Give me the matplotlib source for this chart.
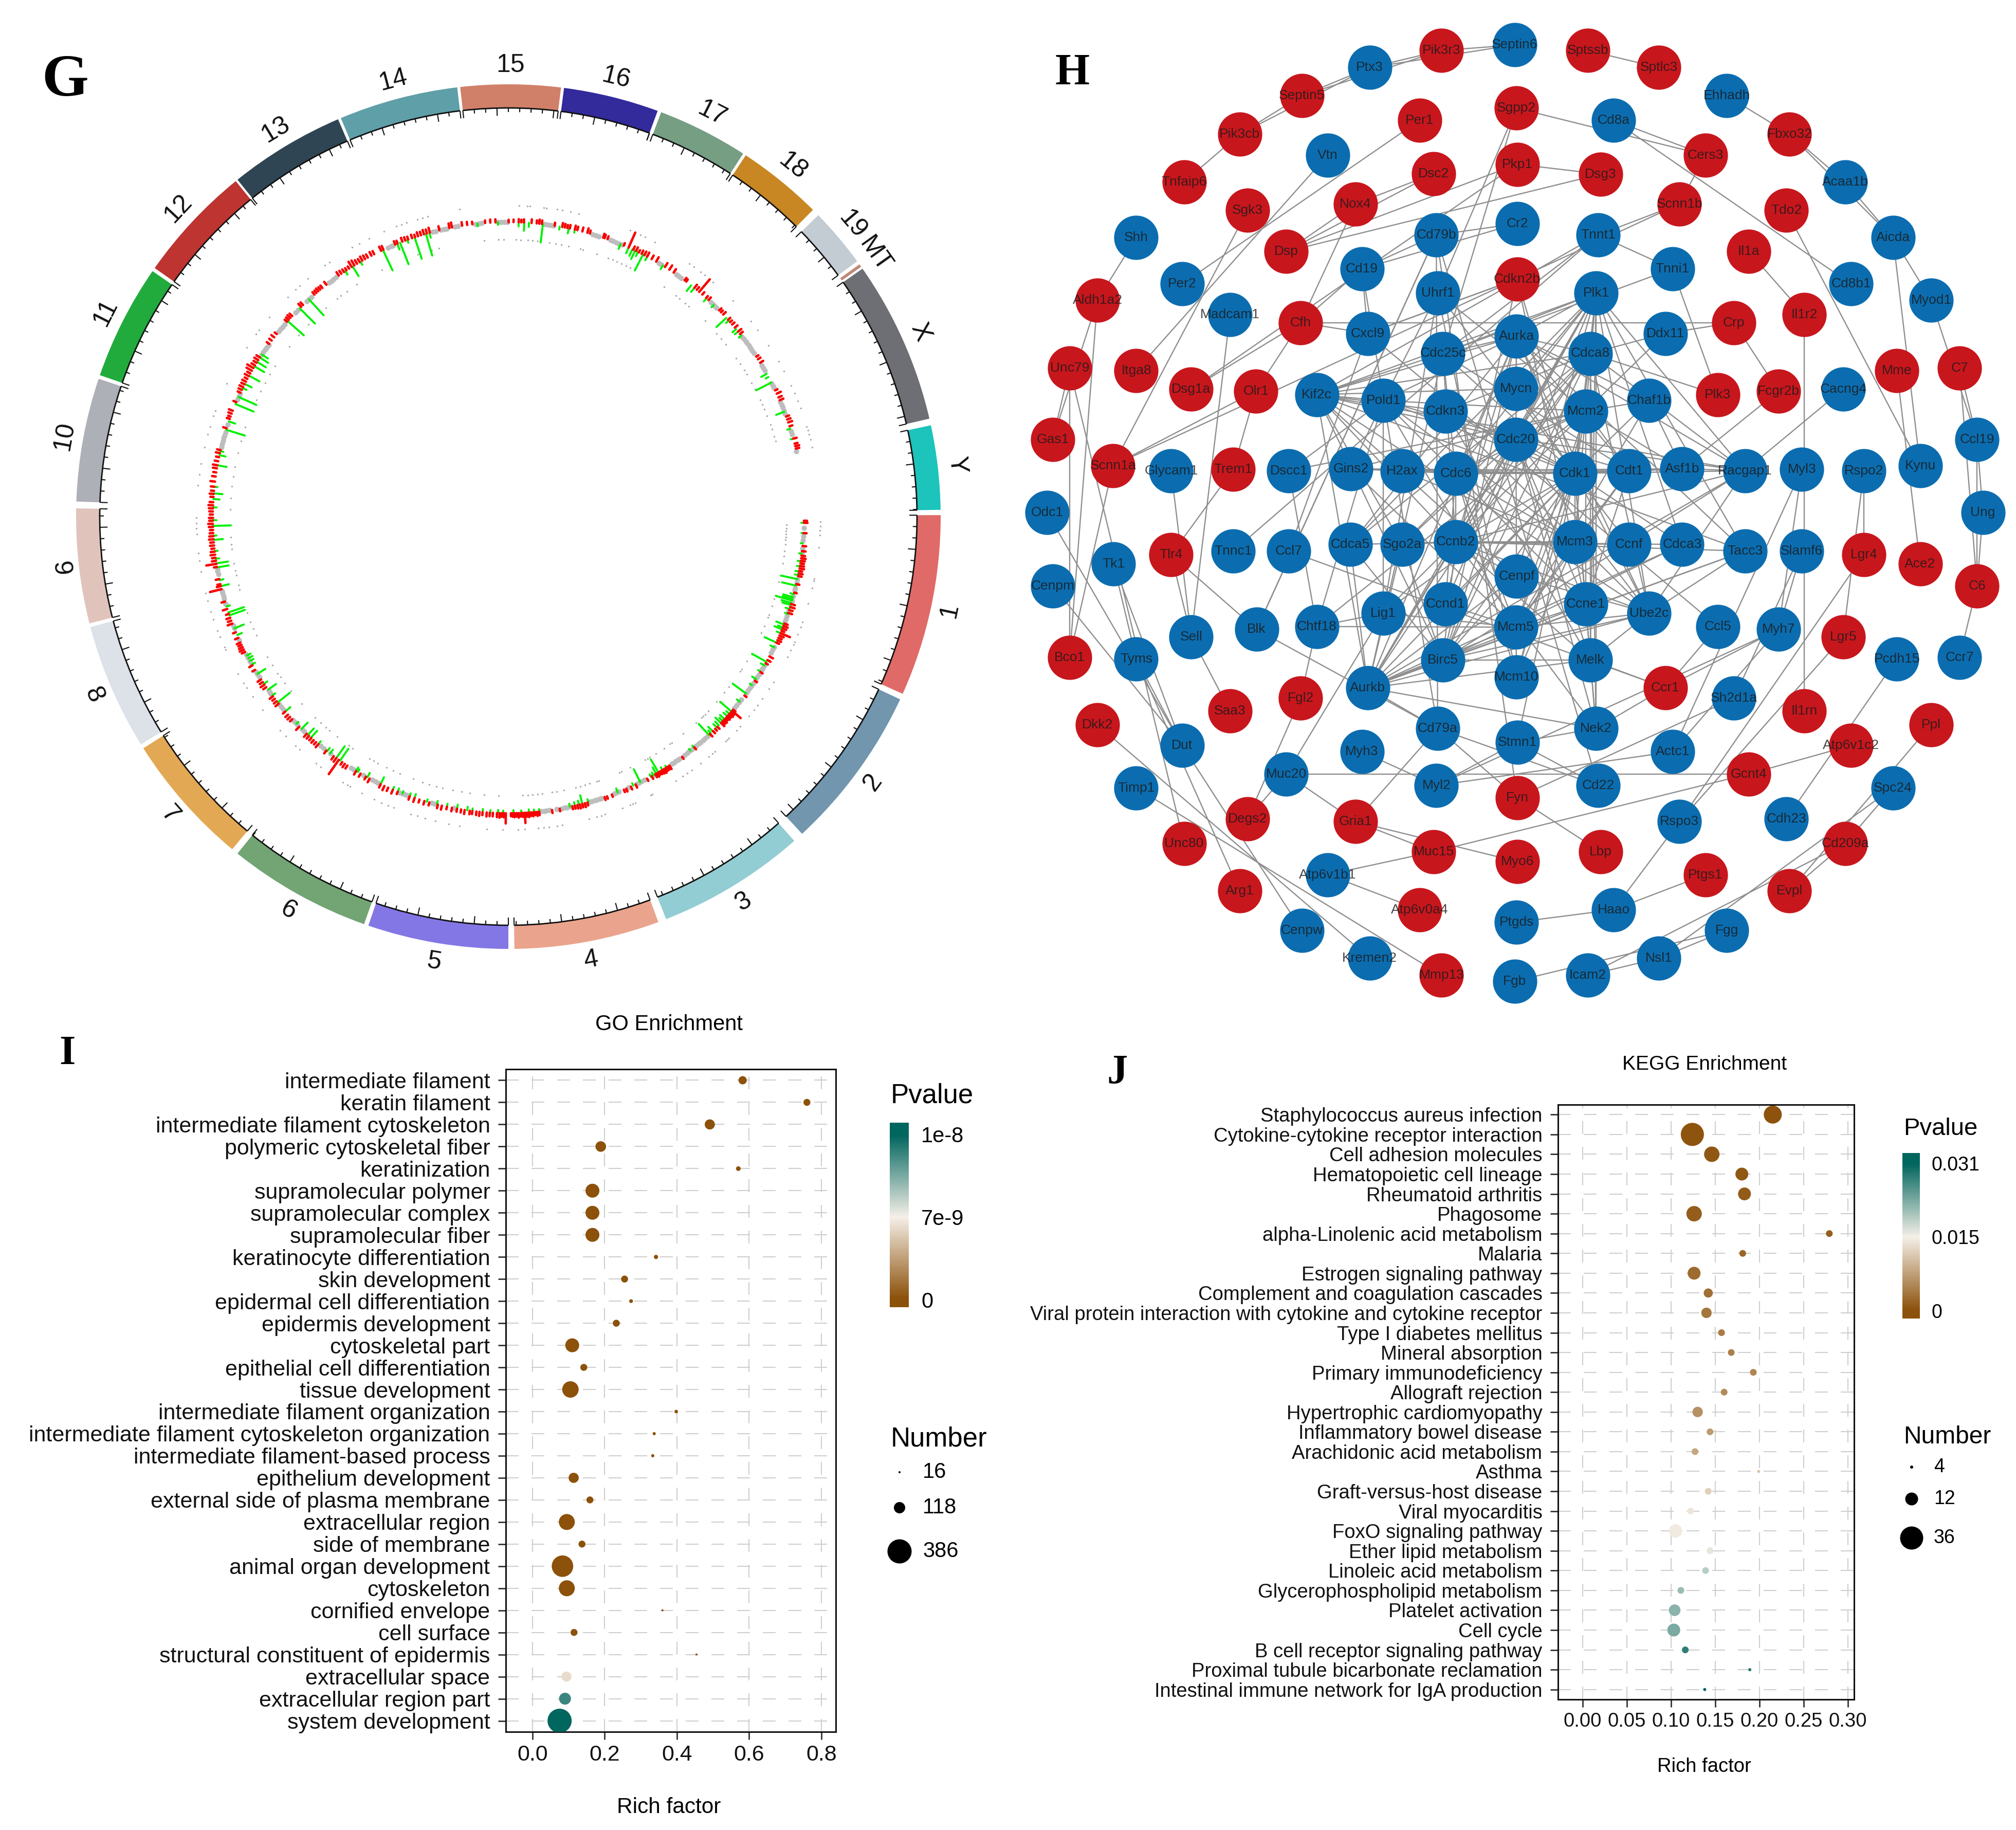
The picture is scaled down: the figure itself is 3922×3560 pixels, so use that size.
import numpy as np
import matplotlib
matplotlib.use('Agg')
import matplotlib.pyplot as plt
from matplotlib.patches import Wedge, Arc
from matplotlib.colors import LinearSegmentedColormap, TwoSlopeNorm

plt.rcParams['font.family'] = ['Liberation Sans', 'DejaVu Sans']

W, H = 3923, 3560

# ---------- G: ring sectors (degrees, counter-clockwise from east)
ring_names = ['1', '2', '3', '4', '5', '6', '7', '8', '9', '10', '11', '12', '13', '14', '15', '16', '17', '18', '19', 'MT', 'X', 'Y']
ring_start = [0.2, -25.0, -48.6, -69.7, -90.0, -109.5, -129.7, -148.2, -165.7, -182.0, -199.1, -215.1, -231.2, -247.2, -263.6, -277.4, -290.7, -303.3, -315.8, -324.3, -325.0, -347.8]
ring_end = [-24.2, -47.2, -68.6, -89.2, -108.9, -128.8, -147.6, -165.2, -181.1, -198.6, -214.6, -230.9, -246.8, -263.2, -277.0, -290.2, -302.9, -314.8, -323.8, -324.7, -346.9, -359.1]
ring_colors = ['#E06A67', '#7196AE', '#92CDD3', '#EAA48D', '#8377E6', '#72A474', '#E2A853', '#DDE1E8', '#E0C4BC', '#ADB0B6',
               '#21AB3C', '#BD3431', '#2F4553', '#5F9FA8', '#D08068', '#332A9C', '#769E83', '#C88723', '#C3CBD3', '#C08878', '#6E6F74', '#1CC4BC']

# track values: theta is clockwise degrees from east, len in pixels of image
green_theta = [1, 3, 5, 7, 8.5, 9.5, 10.5, 11.2, 12, 13.3, 15, 15.6, 16, 16.3, 16.8, 17.2, 18, 19, 21.2, 21.8, 22.2, 23, 25, 26, 29.2, 30, 31.4, 33.1, 34.5, 36.5, 38.5, 41, 41.6, 42.2, 43, 43.5, 44, 44.6, 45.2, 46.3, 46.8, 47.3, 51.1, 52, 57.7, 58.6, 59.5, 60, 60.6, 61.2, 63.5, 65, 68.3, 74.3, 75.5, 76.2, 77, 78, 84, 85, 86, 87.5, 89,
               91, 92, 93.5, 95, 97, 98, 100, 102, 104, 106, 108.5, 109.5, 111, 112, 113, 115.6, 118.5, 120.6, 121, 124.7, 125.6, 127.1, 127.8, 130, 131.9, 132.7, 134.4, 135.8, 139, 141.3, 143, 144.4, 145.8, 148.1, 150.2, 151, 151.6, 152.2, 156.6, 158, 160.7, 161.3, 162.5, 166.6, 167.8, 170.3, 171.1, 172, 173.5, 175.7, 176.5, 178.4, 179.5,
               182, 183.6, 184.7, 186, 190.2, 192.2, 193, 197.3, 199, 202.6, 204.1, 206, 206.9, 208.7, 210.8, 211.8, 212.8, 213.5, 221.7, 225.1, 227.6, 238.2, 236.5, 240, 244.9, 247.9, 248.5, 250, 251.5, 253.8, 254.5, 264, 268,
               272, 273.1, 274, 276.7, 280, 281.8, 283, 292.3, 294, 294.8, 295.4, 296, 297.1, 298, 301.5, 308.2, 309, 312.1, 314, 317.5, 318.2, 320.4, 321, 322, 330.9, 331.6, 332.8, 339, 342.5, 344.5]
green_len = [5, 4, 4, 5, 6, 6, 7, 7, 33, 28, 7, 20, 20, 33, 20, 17, 8, 6, 16, 10, 16, 8, 25, 8, 32, 8, 6, 9, 5, 32, 7, 29, 8, 10, 12, 9, 15, 10, 9, 12, 7, 29, 5, 4, 4, 6, 29, 14, 6, 5, 28, 5, 8, 6, 17, 8, 7, 6, 5, 5, 6, 5, 6,
             5, 6, 5, 6, 5, 7, 8, 6, 7, 5, 8, 6, 5, 7, 6, 15, 10, 6, 8, 28, 28, 9, 8, 7, 18, 17, 17, 5, 13, 30, 7, 19, 8, 18, 7, 8, 9, 8, 10, 20, 32, 32, 7, 16, 8, 23, 23, 7, 6, 18, 6, 35, 7,
             7, 12, 17, 6, 18, 12, 6, 38, 13, 38, 38, 8, 15, 23, 22, 20, 19, 14, 42, 42, 42, 22, 8, 7, 44, 12, 45, 6, 44, 44, 10, 5, 5,
             8, 16, 8, 36, 6, 10, 6, 10, 12, 14, 18, 9, 35, 8, 8, 14, 10, 8, 6, 26, 7, 9, 8, 6, 12, 6, 33, 17, 6, 5]
red_theta = [0.6, 1.0, 3.0, 5.5, 6.5, 7.4, 7.9, 8.4, 8.9, 9.4, 9.9, 10.4, 10.9, 11.4, 13.0, 14.7, 17.0, 17.6, 18.2, 18.8, 21.0, 21.5, 22.0, 22.5, 23.0, 23.5, 24.0, 24.5, 25.0, 28.0, 28.8, 29.5, 31.5, 33.5, 37.0, 40.5, 40.8, 41.2, 41.6, 42.0, 42.4, 42.8, 43.2, 43.6, 44.0, 45.0, 45.6, 46.2, 47.0, 51.0, 54.0, 57.0, 57.4, 57.8, 58.2, 58.6, 59.0, 59.4, 59.8, 60.2, 61.0, 62.0, 64.5, 65.5, 66.5, 67.0, 69.5, 70.5, 71.0, 74.5, 75.0, 75.5, 76.0, 76.5, 77.0, 77.5, 80.0, 81.5,
             84.0, 84.4, 84.8, 85.2, 85.6, 86.0, 86.4, 86.8, 87.2, 87.6, 88.0, 88.4, 88.8, 89.2, 89.5, 90.5, 90.9, 91.3, 91.7, 92.2, 93.0, 93.6, 94.2, 95.0, 95.6, 96.2, 97.0, 97.5, 98.5, 99.2, 100.0, 101.0, 102.0, 103.0, 103.8, 105.5, 106.5, 107.5, 108.5, 109.5, 112.0, 113.0, 114.0, 114.8, 115.6, 118.0, 118.8, 120.0, 121.0, 123.0, 123.6, 124.2, 125.0, 125.6, 126.2, 128.0, 130.0, 130.6, 131.2, 131.8, 132.4, 133.0, 135.0, 137.0, 137.6, 138.2, 139.0, 141.0, 141.6, 142.2, 142.8, 145.0, 145.6, 146.2, 146.8, 149.0, 150.0,
             153.0, 153.5, 154.0, 154.5, 155.0, 156.0, 157.2, 159.0, 159.6, 160.2, 161.0, 162.0, 163.5, 166.0, 166.6, 167.0, 168.0, 170.4, 171.0, 171.6, 172.2, 172.8, 173.4, 174.0, 174.6, 175.2, 175.8, 176.4, 177.0, 177.6, 178.2, 178.8, 179.4, 180.0, 180.6, 181.2, 181.8, 182.4, 183.0, 184.0, 184.6, 185.2, 186.0, 187.0, 188.0, 188.8, 189.6, 190.2, 191.0, 191.8, 192.6, 193.2, 197.6, 199.5, 200.0, 200.6, 201.2, 203.0, 205.0, 205.6, 206.2, 206.8, 207.4, 208.0, 208.6, 209.2, 209.8, 210.4, 211.0, 211.6, 212.2, 212.8, 216.0, 216.8, 217.6, 218.4, 221.5, 222.0, 222.5, 223.0, 225.5, 226.0, 229.0, 229.5, 230.0, 230.5, 231.0, 232.0,
             235.0, 235.6, 236.2, 236.8, 237.4, 238.0, 238.6, 239.2, 239.8, 240.4, 241.0, 241.6, 242.4, 243.0, 244.5, 245.0, 247.5, 248.0, 249.0, 249.6, 250.2, 251.0, 251.6, 252.2, 252.8, 253.4, 254.0, 254.6, 256.5, 258.5, 259.0, 261.0, 262.0, 263.0, 265.5, 266.5, 267.5, 270.0, 271.0, 272.0, 272.5, 273.0, 274.5, 275.5, 276.0, 276.5, 279.0, 280.5, 281.0, 281.5, 282.0, 283.0, 283.5, 284.5, 285.5, 286.0, 288.7, 289.0, 289.6, 293.0, 294.0, 295.0, 295.6, 296.2, 296.8, 297.4, 298.0, 299.0, 300.0, 302.0, 303.0, 304.0, 306.6, 307.0, 309.0, 309.6, 310.2, 311.0, 312.0, 312.6, 315.5, 316.0, 316.6, 318.0, 318.6, 319.2, 320.0, 321.0, 321.6, 327.0, 327.6, 328.4, 334.5, 335.2, 336.0, 336.6, 340.0, 340.6, 341.2, 342.0, 344.5, 345.5, 346.0, 346.5]
red_len = [6, 7, 6, 7, 7, 7, 9, 8, 7, 8, 9, 6, 8, 7, 6, 5, 8, 9, 7, 8, 7, 9, 8, 6, 20, 9, 7, 8, 6, 8, 7, 5, 5, 5, 5, 6, 22, 8, 9, 7, 8, 6, 8, 7, 9, 6, 5, 6, 7, 5, 5, 8, 7, 7, 9, 8, 7, 6, 8, 7, 6, 5, 7, 6, 6, 5, 5, 5, 6, 6, 8, 7, 8, 7, 6, 6, 5, 6,
           7, 8, 6, 8, 7, 9, 8, 20, 8, 7, 9, 7, 8, 7, 6, 20, 8, 7, 9, 8, 7, 7, 8, 6, 8, 7, 6, 7, 8, 6, 6, 7, 5, 8, 7, 6, 7, 6, 8, 7, 5, 8, 7, 9, 7, 8, 6, 7, 8, 7, 8, 6, 34, 9, 8, 7, 8, 6, 7, 6, 7, 8, 9, 6, 7, 7, 6, 8, 7, 6, 8, 7, 9, 7, 8, 6, 7, 7,
           9, 8, 7, 8, 7, 6, 10, 7, 8, 6, 9, 7, 23, 8, 6, 7, 6, 20, 8, 7, 9, 8, 6, 8, 7, 9, 8, 7, 6, 8, 9, 7, 8, 6, 7, 8, 9, 7, 6, 8, 6, 7, 9, 7, 6, 8, 9, 7, 6, 8, 7, 7, 6, 5, 7, 8, 6, 6, 7, 8, 7, 8, 6, 9, 7, 12, 14, 8, 7, 9, 8, 6, 6, 7, 5, 6, 7, 8, 7, 8, 7, 6, 6, 7, 6, 6, 7, 8, 7, 6, 5,
           5, 12, 11, 8, 7, 9, 8, 7, 8, 7, 9, 8, 7, 6, 8, 7, 6, 7, 5, 8, 7, 9, 8, 10, 8, 9, 10, 7, 6, 5, 5, 6, 6, 5, 5, 6, 5, 6, 7, 6, 8, 7, 6, 8, 7, 6, 7, 8, 7, 8, 9, 6, 8, 7, 6, 5, 32, 7, 8, 5, 7, 8, 9, 8, 10, 9, 10, 8, 6, 5, 8, 7, 32, 6, 5, 7, 6, 5, 7, 6, 5, 6, 7, 8, 7, 5, 6, 7, 5, 9, 7, 8, 6, 7, 8, 6, 7, 6, 8, 7, 7, 8]
grey_theta = [2, 3.6, 4.4, 6, 7, 12, 12.8, 13.8, 14.2, 15.4, 16.4, 18.5, 19.4, 20, 20.6, 26, 26.6, 27.2, 30, 30.6, 31, 32, 32.6, 33.2, 34, 34.6, 35.2, 35.8, 36.4, 38, 38.6, 39.4, 40, 47.6, 48.2, 48.8, 49.4, 50, 50.6, 51.6, 52.2, 52.8, 53.4, 54.6, 55, 55.6, 56, 56.4, 60.8, 62.6, 63.2, 63.8, 64.2, 66, 68, 68.6, 69, 71.6, 72, 72.6, 73, 73.6, 74, 78, 78.6, 79, 79.6, 80.6, 82, 82.6, 83, 83.6,
              100.6, 104.4, 105, 110, 110.6, 111, 111.6, 116.2, 116.8, 117.4, 119.4, 121.6, 122.2, 127, 128.6, 129.4, 133.6, 134.2, 135.6, 136.2, 136.8, 139.6, 140.2, 140.8, 143.4, 143.8, 144.2, 147.4, 148, 148.6, 150.4, 151, 151.8, 152.4, 155.6, 158, 158.6, 163, 164, 164.6, 165.2, 165.6, 169, 169.6, 170, 193.8, 194.4, 195, 195.6, 196.2, 196.8, 198.4, 203.6, 204.2, 204.8, 213.4, 214, 214.6, 215.2, 215.8, 219, 219.6, 220.2, 220.8, 224, 224.6, 227, 227.6, 228.2, 232.6, 233.2, 233.8, 234.4,
              246, 246.6, 247, 255.2, 255.8, 256.8, 257.4, 258, 259.6, 260.2, 263.6, 264.2, 264.8, 268, 268.6, 269.2, 269.8, 277, 277.6, 278.2, 278.8, 286.6, 287.2, 287.8, 290.2, 290.8, 291.4, 292, 292.6, 300.6, 301.2, 304.6, 305.2, 305.8, 313.2, 313.8, 314.4, 314.8, 322.2, 322.8, 323.4, 323.8, 324.4, 325, 325.6, 326.2, 329, 329.6, 330.2, 333, 333.6, 334, 337, 337.6, 338.2, 338.8, 339.4, 343, 343.6, 347]
outer_dots = [0.8, 1.6, 2.4, 3.2, 5.5, 11.3, 11.7, 13, 16, 19.5, 20.5, 22, 23.5, 24, 25.2, 26.5, 31.8, 33.3, 35.5, 37, 38, 39.5, 42, 43, 45, 45.4, 45.8, 48.5, 49.2, 50, 52, 54, 55, 56, 57.5, 62.5, 62.8, 66, 66.5, 67, 68.5, 72, 72.7, 73.5, 75, 80, 81, 82.5, 83.5, 84.5, 87, 88.2, 91, 94, 99, 101, 103.5, 105.5, 107, 108.2, 111.6, 112.7, 114, 115.5, 118, 120.5, 121, 122, 127, 128, 132, 133, 135.5, 137, 142, 145, 147, 148, 150, 155, 155.5, 157.5, 158.8, 161, 162.5, 164.5, 166, 170, 172, 173.5, 177, 178, 179, 180,
              186, 188, 190, 193, 195.5, 197, 199, 200, 205.5, 213, 216, 217, 220, 225, 227, 228, 230, 234, 235, 240, 241.5, 243.5, 246.5, 249, 250, 251, 253, 254, 255, 261, 272, 273.5, 274, 276.5, 277, 279, 280, 281.5, 283, 293, 294, 295, 296, 298, 305.5, 306.5, 308, 309, 311, 316, 321, 323, 326.5, 330, 332, 335, 336.5, 338, 339.5, 343, 343.7, 344.5, 345.5, 347]
inner_dots = [1.5, 2.2, 2.8, 3.4, 4, 4.6, 5.5, 6.9, 8, 9.5, 13.4, 17, 18.5, 20.5, 21, 23, 24.5, 31, 33, 33.5, 37.5, 39, 41.5, 44, 45, 45.5, 46, 47.5, 51, 54, 54.5, 56, 58, 59.5, 60, 60.5, 64, 66, 66.5, 71, 71.5, 73, 74, 75, 76, 78.5, 80, 81, 83, 84, 85, 86, 87, 92, 95, 98, 99.7, 101.5, 103.7, 105, 106.5, 108, 110, 112.9, 114.5, 116, 118, 119, 120, 124, 125, 128, 130, 131, 132.5, 134, 138, 141.5, 143.5, 145, 146, 148, 150, 155, 156.5, 158, 160, 165, 166, 168, 169, 170.5, 173.5, 174.5, 176,
              181.7, 184, 186.5, 188.5, 190.5, 193.5, 196, 199, 205, 207, 209, 211, 213, 218, 221, 224, 229, 232, 233, 234.5, 237, 243, 245, 248.5, 251, 254, 255.5, 265, 268, 269, 271.6, 272.5, 274, 275, 276, 278.5, 279.8, 281, 282.5, 285, 285.5, 288.5, 291, 292, 293, 294, 295, 296, 297, 304, 307, 308, 309.5, 310.5, 315, 318.5, 320, 321.5, 325, 326.5, 328, 329, 331, 332.5, 335, 336, 337, 338.5, 340.5, 341.5, 343, 344]

# ---------- H: network, layout units of the panel
blue_names = ['Septin6', 'Ptx3', 'Ehhadh', 'Cd8a', 'Vtn', 'Acaa1b', 'Shh', 'Aicda', 'Cd79b', 'Cr2', 'Tnnt1', 'Cd19', 'Tnni1', 'Per2', 'Cd8b1', 'Uhrf1', 'Plk1', 'Myod1', 'Madcam1', 'Cxcl9', 'Ddx11', 'Aurka', 'Cdc25c', 'Cdca8', 'Mycn', 'Cacng4', 'Kif2c', 'Pold1', 'Chaf1b', 'Cdkn3', 'Mcm2', 'Ccl19', 'Cdc20', 'Kynu', 'Gins2', 'Asf1b', 'H2ax', 'Cdt1', 'Myl3', 'Glycam1', 'Rspo2', 'Dscc1', 'Racgap1', 'Cdc6', 'Cdk1', 'Odc1', 'Ung',
              'Tacc3', 'Slamf6', 'Tnnc1', 'Ccl7', 'Cdca5', 'Sgo2a', 'Ccnb2', 'Mcm3', 'Ccnf', 'Cdca3', 'Tk1', 'Cenpf', 'Cenpm', 'Ccnd1', 'Ccne1', 'Lig1', 'Ube2c', 'Chtf18', 'Ccl5', 'Mcm5', 'Blk', 'Myh7', 'Sell', 'Ccr7', 'Tyms', 'Pcdh15', 'Birc5', 'Melk', 'Mcm10', 'Aurkb', 'Sh2d1a', 'Cd79a', 'Nek2', 'Stmn1', 'Dut', 'Myh3', 'Actc1', 'Muc20', 'Myl2', 'Cd22', 'Timp1', 'Spc24', 'Cdh23', 'Rspo3', 'Atp6v1b1', 'Haao', 'Ptgds', 'Cenpw', 'Fgg', 'Kremen2', 'Nsl1', 'Icam2', 'Fgb']
blue_x = [792, 568, 1120, 945, 503, 1303, 207, 1377, 671, 796, 921, 556, 1036, 278, 1312, 673, 918, 1436, 352, 565, 1025, 795, 681, 909, 794, 1300, 486, 589, 1000, 685, 902, 1507, 794, 1419, 539, 1051, 618, 969, 1236, 261, 1332, 443, 1148, 701, 885, 69, 1516,
          1148, 1236, 357, 443, 538, 618, 701, 885, 969, 1051, 172, 795, 78, 685, 902, 589, 1000, 486, 1106, 794, 393, 1200, 292, 1480, 207, 1383, 681, 909, 795, 565, 1131, 673, 918, 796, 278, 556, 1036, 439, 671, 921, 207, 1377, 1212, 1047, 503, 945, 795, 463, 1120, 568, 1015, 905, 792]
blue_y = [137, 206, 292, 367, 473, 555, 725, 725, 717, 682, 717, 820, 820, 866, 866, 894, 894, 916, 960, 1017, 1017, 1026, 1078, 1078, 1185, 1187, 1204, 1222, 1222, 1254, 1254, 1340, 1340, 1420, 1430, 1430, 1436, 1436, 1432, 1436, 1436, 1436, 1436, 1444, 1444, 1563, 1563,
          1681, 1681, 1681, 1681, 1661, 1661, 1653, 1653, 1661, 1661, 1720, 1758, 1787, 1843, 1843, 1870, 1870, 1911, 1911, 1913, 1920, 1920, 1942, 2005, 2010, 2010, 2013, 2013, 2065, 2098, 2130, 2222, 2222, 2264, 2274, 2293, 2293, 2361, 2396, 2396, 2403, 2403, 2498, 2506, 2668, 2775, 2813, 2838, 2838, 2923, 2923, 2975, 2993]
red_names = ['Pik3r3', 'Sptssb', 'Sptlc3', 'Septin5', 'Pik3cb', 'Fbxo32', 'Per1', 'Sgpp2', 'Cers3', 'Tnfaip6', 'Dsc2', 'Pkp1', 'Dsg3', 'Sgk3', 'Nox4', 'Scnn1b', 'Tdo2', 'Dsp', 'Il1a', 'Cdkn2b', 'Aldh1a2', 'Il1r2', 'Cfh', 'Crp', 'Unc79', 'C7', 'Itga8', 'Mme', 'Dsg1a', 'Olr1', 'Fcgr2b', 'Plk3', 'Gas1', 'Scnn1a', 'Trem1',
             'Tlr4', 'Lgr4', 'Ace2', 'C6', 'Lgr5', 'Bco1', 'Ccr1', 'Fgl2', 'Saa3', 'Il1rn', 'Dkk2', 'Ppl', 'Atp6v1c2', 'Gcnt4', 'Fyn', 'Degs2', 'Gria1', 'Unc80', 'Cd209a', 'Muc15', 'Lbp', 'Myo6', 'Ptgs1', 'Arg1', 'Evpl', 'Atp6v0a4', 'Mmp13']
red_x = [679, 905, 1015, 463, 367, 1217, 645, 795, 1087, 281, 667, 796, 925, 379, 546, 1047, 1212, 439, 1154, 796, 147, 1240, 461, 1131, 104, 1480, 207, 1383, 292, 392, 1200, 1106, 78, 171, 357,
         261, 1332, 1419, 1507, 1300, 104, 1025, 461, 352, 1240, 147, 1436, 1312, 1154, 796, 379, 546, 281, 1303, 667, 925, 796, 1087, 367, 1217, 645, 679]
red_y = [154, 154, 206, 292, 409, 409, 367, 330, 473, 555, 530, 501, 531, 642, 622, 622, 642, 767, 767, 851, 916, 960, 984, 984, 1122, 1122, 1130, 1130, 1187, 1193, 1193, 1204, 1340, 1420, 1432,
         1692, 1692, 1720, 1787, 1942, 2005, 2098, 2130, 2169, 2169, 2211, 2211, 2274, 2361, 2433, 2498, 2506, 2573, 2573, 2598, 2598, 2628, 2668, 2718, 2718, 2775, 2975]

outer_edges = {
    'Septin6': ['Pik3r3', 'Ptx3'], 'Ptx3': ['Pik3r3', 'Septin5', 'Pik3cb'], 'Pik3r3': ['Septin5'], 'Septin5': ['Pik3cb'], 'Tnfaip6': ['Pik3cb'],
    'Sptssb': ['Sptlc3'], 'Ehhadh': ['Fbxo32'], 'Fbxo32': ['Acaa1b', 'Aicda'], 'Acaa1b': ['Aicda'], 'Aicda': ['Myod1', 'Kynu'], 'Myod1': ['Ccl19'], 'Ccl19': ['Ung', 'C6', 'C7'], 'Ung': ['C6'], 'C6': ['Ccr7'],
    'Sgpp2': ['Cers3', 'Cdc25c', 'Uhrf1'], 'Cd8a': ['Cers3', 'Cd8b1'], 'Per1': ['Per2'], 'Vtn': ['Itga8'], 'Sgk3': ['Scnn1a'], 'Nox4': ['Dsc2', 'Dsp', 'Cfh'], 'Pkp1': ['Dsp', 'Dsg3', 'Dsg1a'], 'Dsg3': ['Dsp'], 'Dsc2': ['Dsp'],
    'Tnnt1': ['Scnn1b', 'Tnni1', 'Kif2c', 'Cdc25c', 'Tnnc1'], 'Tnni1': ['Plk3', 'Cdc25c'], 'Scnn1b': ['Scnn1a', 'Cers3'], 'Il1a': ['Il1r2'], 'Il1r2': ['Il1rn'], 'Shh': ['Aldh1a2'], 'Aldh1a2': ['Bco1', 'Gas1'], 'Tdo2': ['Kynu'],
    'Crp': ['Cfh', 'Fcgr2b', 'Ddx11'], 'Cr2': ['Cd79b', 'Cd19'], 'Cd19': ['Cd79b', 'Cxcl9', 'Cd79a', 'Cfh'], 'Madcam1': ['Sell'], 'Unc79': ['Gas1', 'Unc80', 'Bco1'], 'Mme': ['Ace2'], 'C7': ['C6'], 'Olr1': ['Cfh', 'Scnn1a', 'Trem1'], 'Dsg1a': ['Cfh'],
    'Fcgr2b': ['Asf1b'], 'Cacng4': ['Racgap1'], 'Cxcl9': ['Cdkn2b', 'Ccl7', 'Ccl5', 'Cfh'], 'Odc1': ['Dut'], 'Cenpm': ['Dut'], 'Tk1': ['Tyms', 'Dut'], 'Tyms': ['Dut', 'Arg1'], 'Dut': ['Cenpw'], 'Tlr4': ['Blk', 'Sell', 'Trem1'], 'Sell': ['Saa3', 'Glycam1'], 'Blk': ['Cd79a', 'Cd79b'],
    'Fgl2': ['Degs2', 'Chtf18'], 'Muc20': ['Degs2', 'Gcnt4', 'Gria1', 'Lig1'], 'Gcnt4': ['Muc15', 'Atp6v1c2'], 'Muc15': ['Atp6v1b1', 'Gria1'], 'Atp6v1b1': ['Atp6v0a4'], 'Gria1': ['Myo6', 'Cd79a'], 'Cd79a': ['Aurkb', 'Fyn', 'Cd22', 'Cd79b'], 'Fyn': ['Lbp', 'Sh2d1a'],
    'Myl2': ['Actc1', 'Stmn1', 'Myh7', 'Myh3'], 'Stmn1': ['Nek2', 'Cd22'], 'Nek2': ['Ccr1'], 'Melk': ['Ccr1'], 'Ccr1': ['Ccl5', 'Myh7', 'Ccl7'], 'Rspo3': ['Lgr4', 'Lgr5', 'Haao'], 'Ptgs1': ['Haao'], 'Haao': ['Ptgds'], 'Cdh23': ['Pcdh15'], 'Ppl': ['Evpl'], 'Spc24': ['Cd209a', 'Nsl1'],
    'Cd209a': ['Icam2', 'Evpl'], 'Nsl1': ['Fgg', 'Icam2'], 'Fgb': ['Fgg'], 'Timp1': ['Mmp13'], 'Dkk2': ['Kremen2'], 'Actc1': ['Myh7', 'Myl3'], 'Lgr4': ['Rspo2'], 'Slamf6': ['Sh2d1a', 'Myh7'], 'Myl3': ['Myh7'], 'Lgr5': ['Rspo2'], 'Cd22': ['Cd79b'], 'Scnn1a': ['Bco1'],
}
core_edges = {
    'Plk1': ['Aurka', 'Cdc25c', 'Cdca8', 'Kif2c', 'Cdc20', 'Cdk1', 'Mcm2', 'Birc5', 'Aurkb', 'Ccnb2', 'Cdca5', 'Cdca3', 'Racgap1', 'Tacc3', 'Ube2c', 'Nek2', 'Melk', 'Cdc6', 'Cenpf', 'Mycn'],
    'Aurka': ['Cdc25c', 'Cdca8', 'Kif2c', 'Pold1', 'Cdc20', 'Cdk1', 'Ccnb2', 'Birc5', 'Aurkb', 'Tacc3', 'Racgap1', 'Ube2c', 'Cdca5', 'Cdc6', 'Mycn', 'Chaf1b', 'Cdt1'],
    'Cdca8': ['Kif2c', 'Cdc20', 'Cdk1', 'Birc5', 'Aurkb', 'Ccnb2', 'Sgo2a', 'Melk', 'Nek2', 'Ube2c', 'Cdkn3', 'Cdca5', 'Racgap1', 'Ddx11', 'Plk3'],
    'Cdc20': ['Cdk1', 'Ccnb2', 'Birc5', 'Aurkb', 'Mcm2', 'Cdc6', 'Ube2c', 'Cenpf', 'Kif2c', 'Sgo2a', 'Melk', 'Nek2', 'Ccnd1', 'Ccne1', 'Cdkn3', 'Racgap1'],
    'Cdk1': ['Cdc6', 'Cdt1', 'Ccnb2', 'Ccne1', 'Ccnd1', 'Mcm2', 'Mcm3', 'Mcm5', 'Mcm10', 'Birc5', 'Aurkb', 'Ccnf', 'Cdca3', 'H2ax', 'Lig1', 'Ube2c', 'Cenpf', 'Melk', 'Nek2', 'Pold1', 'Gins2', 'Racgap1', 'Asf1b', 'Stmn1', 'Mycn', 'Cdkn3', 'Chaf1b', 'Cdc25c', 'Uhrf1', 'Cdkn2b'],
    'Mcm2': ['Mcm3', 'Mcm5', 'Mcm10', 'Gins2', 'Cdc6', 'Cdt1', 'Pold1', 'Lig1', 'Ccne1', 'Uhrf1', 'Chaf1b', 'Asf1b', 'Chtf18', 'Dscc1', 'Ddx11'],
    'Cdc6': ['Cdt1', 'Mcm3', 'Mcm5', 'Mcm10', 'Gins2', 'Ccne1', 'Ccnd1', 'Pold1', 'Cdc25c', 'Ccnb2'],
    'Mcm5': ['Mcm3', 'Mcm10', 'Gins2', 'Cdt1', 'Pold1', 'Ccne1', 'Lig1', 'Chtf18', 'Chaf1b', 'Ccnd1', 'Aurkb', 'Ube2c'],
    'Ccnb2': ['Cdc25c', 'Birc5', 'Aurkb', 'Kif2c', 'Mcm3', 'Ccnf', 'Cdca3', 'Ube2c', 'Cenpf', 'Nek2', 'Melk', 'Cdca5', 'Sgo2a', 'Tacc3', 'Racgap1'],
    'Birc5': ['Aurkb', 'Kif2c', 'Cdca5', 'Cdca3', 'Sgo2a', 'Ube2c', 'Racgap1', 'Melk', 'Cenpf', 'Tacc3'],
    'Aurkb': ['Kif2c', 'Racgap1', 'Ube2c', 'Cdca5', 'Cdc25c', 'Ccne1', 'Cdca3', 'Cenpf', 'Sgo2a', 'Nek2', 'Melk', 'Tacc3'],
    'Kif2c': ['Cdc25c', 'Racgap1', 'Ube2c', 'Cenpf', 'Cdkn3', 'Sgo2a', 'Tacc3', 'Pold1', 'Mycn'],
    'Pold1': ['Lig1', 'Gins2', 'Cdt1', 'Chtf18', 'Dscc1', 'Mcm3', 'Uhrf1'],
    'Cdt1': ['Gins2', 'Mcm3', 'Ccne1', 'Asf1b', 'Cdc25c'],
    'Asf1b': ['Chaf1b', 'H2ax', 'Racgap1'],
    'Ube2c': ['Cdkn3', 'Racgap1', 'Melk', 'Cenpf', 'Tacc3'],
    'Lig1': ['Chtf18', 'Uhrf1'], 'Cdkn2b': ['Ccne1', 'Ccnd1', 'Cxcl9'], 'Cd79b': ['Fyn', 'Blk'], 'Dscc1': ['Chtf18'], 'Melk': ['Cdkn3', 'Nek2'], 'Mcm10': ['Mcm3', 'Uhrf1'], 'H2ax': ['Gins2', 'Mcm3'],
}

# ---------- I: GO enrichment
go_terms = ['intermediate filament', 'keratin filament', 'intermediate filament cytoskeleton', 'polymeric cytoskeletal fiber', 'keratinization', 'supramolecular polymer', 'supramolecular complex', 'supramolecular fiber', 'keratinocyte differentiation', 'skin development', 'epidermal cell differentiation', 'epidermis development', 'cytoskeletal part', 'epithelial cell differentiation', 'tissue development', 'intermediate filament organization', 'intermediate filament cytoskeleton organization', 'intermediate filament-based process', 'epithelium development', 'external side of plasma membrane', 'extracellular region', 'side of membrane', 'animal organ development', 'cytoskeleton', 'cornified envelope', 'cell surface', 'structural constituent of epidermis', 'extracellular space', 'extracellular region part', 'system development']
go_rich = [0.582, 0.76, 0.491, 0.189, 0.57, 0.166, 0.166, 0.166, 0.342, 0.255, 0.273, 0.232, 0.11, 0.142, 0.105, 0.398, 0.337, 0.333, 0.114, 0.159, 0.095, 0.137, 0.083, 0.095, 0.36, 0.115, 0.454, 0.094, 0.09, 0.075]
go_number = [84, 70, 105, 110, 45, 172, 172, 172, 40, 70, 35, 70, 172, 70, 225, 32, 28, 28, 105, 70, 215, 70, 330, 215, 14, 70, 14, 105, 130, 386]
go_p = [0, 0, 0, 0, 0, 0, 0, 0, 0, 0, 0, 0, 0, 0, 0, 0, 0, 0, 0, 0, 0, 0, 0, 0, 0, 0, 1e-10, 4.4e-9, 8.8e-9, 1e-8]

# ---------- J: KEGG enrichment
kegg_terms = ['Staphylococcus aureus infection', 'Cytokine-cytokine receptor interaction', 'Cell adhesion molecules', 'Hematopoietic cell lineage', 'Rheumatoid arthritis', 'Phagosome', 'alpha-Linolenic acid metabolism', 'Malaria', 'Estrogen signaling pathway', 'Complement and coagulation cascades', 'Viral protein interaction with cytokine and cytokine receptor', 'Type I diabetes mellitus', 'Mineral absorption', 'Primary immunodeficiency', 'Allograft rejection', 'Hypertrophic cardiomyopathy', 'Inflammatory bowel disease', 'Arachidonic acid metabolism', 'Asthma', 'Graft-versus-host disease', 'Viral myocarditis', 'FoxO signaling pathway', 'Ether lipid metabolism', 'Linoleic acid metabolism', 'Glycerophospholipid metabolism', 'Platelet activation', 'Cell cycle', 'B cell receptor signaling pathway', 'Proximal tubule bicarbonate reclamation', 'Intestinal immune network for IgA production']
kegg_rich = [0.215, 0.124, 0.146, 0.18, 0.183, 0.126, 0.279, 0.181, 0.126, 0.142, 0.14, 0.157, 0.168, 0.193, 0.16, 0.13, 0.144, 0.127, 0.199, 0.142, 0.122, 0.105, 0.144, 0.139, 0.111, 0.104, 0.103, 0.116, 0.189, 0.138]
kegg_number = [24, 36, 18, 12, 12, 18, 7, 7, 12, 9, 10, 7, 7, 7, 7, 10, 7, 7, 4, 7, 7, 13, 7, 7, 7, 11, 12, 7, 4, 4]
kegg_p = [0.0002, 0.0003, 0.0006, 0.0008, 0.001, 0.0012, 0.0014, 0.002, 0.0025, 0.003, 0.0035, 0.004, 0.0045, 0.005, 0.0055, 0.006, 0.007, 0.008, 0.011, 0.012, 0.014, 0.0145, 0.016, 0.019, 0.021, 0.022, 0.023, 0.028, 0.029, 0.031]

fig = plt.figure(figsize=(W / 100, H / 100), dpi=100, facecolor='white')
cmap = LinearSegmentedColormap.from_list('brbg', ['#8C510A', '#F5F0E8', '#01665E'])


def box(x0, y0, x1, y1):
    return [x0 / W, 1 - y1 / H, (x1 - x0) / W, (y1 - y0) / H]


# ---------- panel G
cx, cy = 989, 1005
ax = fig.add_axes([0, 0, 1, 1])
ax.set_xlim(-cx, W - cx)
ax.set_ylim(cy - H, cy)
ax.axis('off')

for name, a0, a1, col in zip(ring_names, ring_start, ring_end, ring_colors):
    ax.add_patch(Wedge((0, 0), 841, a1, a0, width=46, facecolor=col, edgecolor='none'))
    if name == 'MT':
        continue
    ax.add_patch(Arc((0, 0), 2 * 795, 2 * 795, theta1=a1, theta2=a0, color='#111111', lw=2))
    for i, t in enumerate(np.arange(a0, a1, -1.6)):
        tl = 15 if i % 5 == 3 or i == 0 else 8
        c, s = np.cos(np.radians(t)), np.sin(np.radians(t))
        ax.plot([795 * c, (795 - tl) * c], [795 * s, (795 - tl) * s], color='#111111', lw=1.5, solid_capstyle='butt')
    c, s = np.cos(np.radians(a1)), np.sin(np.radians(a1))
    ax.plot([795 * c, 780 * c], [795 * s, 780 * s], color='#111111', lw=1.5, solid_capstyle='butt')

    # label faces the centre in the lower half, the outside in the upper half
    mid = (a0 + a1) / 2
    if name == '19':
        mid = 40.3
    m = mid % 360
    rot = m + 90 if m > 180 else m - 90
    ax.text(878 * np.cos(np.radians(mid)), 878 * np.sin(np.radians(mid)), name, fontsize=36, rotation=rot,
            rotation_mode='anchor', ha='center', va='center', color='#111111')
ax.text(876 * np.cos(np.radians(35.5)), 876 * np.sin(np.radians(35.5)), 'MT', fontsize=36, rotation=-54.5,
        rotation_mode='anchor', ha='center', va='center', color='#111111')

tcy = -2
r0 = 575
th = -np.radians(grey_theta)
ax.scatter(r0 * np.cos(th), tcy + r0 * np.sin(th), s=55, color='#BDBDBD', linewidths=0, zorder=2)
th = -np.radians(outer_dots)
ax.scatter(607 * np.cos(th), tcy + 607 * np.sin(th), s=6, color='#A8A8A8', linewidths=0, zorder=2)
th = -np.radians(inner_dots)
ax.scatter(541 * np.cos(th), tcy + 541 * np.sin(th), s=6, color='#A8A8A8', linewidths=0, zorder=2)

for t, l in zip(green_theta, green_len):
    c, s = np.cos(-np.radians(t)), np.sin(-np.radians(t))
    ax.plot([r0 * c, (r0 - l) * c], [tcy + r0 * s, tcy + (r0 - l) * s], color='#00F000', lw=2.8, solid_capstyle='round', zorder=3)
for t, l in zip(red_theta, red_len):
    c, s = np.cos(-np.radians(t)), np.sin(-np.radians(t))
    ax.plot([r0 * c, (r0 + l) * c], [tcy + r0 * s, tcy + (r0 + l) * s], color='#F80000', lw=3.4, solid_capstyle='round', zorder=4)

# ---------- panel H
lay = fig.add_axes(box(1950, 0, W, H))
lay.set_xlim(0, 1568)
lay.set_ylim(H * 1.568, 0)
lay.axis('off')
pos = {}
for n, x, y in zip(blue_names, blue_x, blue_y):
    pos[n] = (x, y)
for n, x, y in zip(red_names, red_x, red_y):
    pos[n] = (x, y)
for edges in [outer_edges, core_edges]:
    for a, others in edges.items():
        for b in others:
            lay.plot([pos[a][0], pos[b][0]], [pos[a][1], pos[b][1]], color='#8E8E8E', lw=1.7, zorder=1)
lay.scatter(blue_x, blue_y, s=3850, color='#0B6DB0', linewidths=0, zorder=2)
lay.scatter(red_x, red_y, s=3850, color='#C8161D', linewidths=0, zorder=2)
for n, (x, y) in pos.items():
    lay.text(x, y, n, fontsize=19, ha='center', va='center', color='#1A1A1A', alpha=0.8, zorder=3)


# ---------- panels I and J
def enrich(pos_box, terms, rich, number, pvals, xlim, xticks, xfmt, norm, sizes_n, sizes_d, fs):
    a = fig.add_axes(box(*pos_box))
    y = np.arange(len(terms))[::-1]
    d = np.interp(number, sizes_n, sizes_d) * 0.72
    a.scatter(rich, y, s=d ** 2, c=cmap(norm(np.array(pvals))), linewidths=0, zorder=3)
    a.set_xlim(*xlim)
    a.set_ylim(-0.5, len(terms) - 0.5)
    a.set_yticks(y)
    a.set_yticklabels(terms, fontsize=fs)
    a.set_xticks(xticks)
    a.set_xticklabels([xfmt % v for v in xticks], fontsize=fs)
    a.grid(True, color='#CFCFCF', lw=1.5, linestyle=(0, (12, 12)), zorder=0)
    a.set_axisbelow(True)
    a.tick_params(length=11, width=2, color='#333333', labelcolor='#111111')
    a.tick_params(axis='y', pad=11)
    a.tick_params(axis='x', pad=7)
    for sp in a.spines.values():
        sp.set_linewidth(2.2)
        sp.set_color('#111111')
    return a


go_norm = TwoSlopeNorm(vmin=0, vcenter=5e-9, vmax=1e-8)
go_n = [16, 118, 386]
go_d = [4, 22, 47]
enrich((984, 2080, 1626, 3369), go_terms, go_rich, go_number, go_p, (-0.074, 0.84), [0, 0.2, 0.4, 0.6, 0.8], '%.1f', go_norm, go_n, go_d, 31)
fig.text(1301 / W, 1 - 1993 / H, 'GO Enrichment', fontsize=30, ha='center', va='center')
fig.text(1301 / W, 1 - 3516 / H, 'Rich factor', fontsize=30.5, ha='center', va='center')

kegg_norm = TwoSlopeNorm(vmin=0, vcenter=0.015, vmax=0.031)
kegg_n = [4, 12, 36]
kegg_d = [6, 25, 45]
enrich((3031, 2149, 3607, 3306), kegg_terms, kegg_rich, kegg_number, kegg_p, (-0.028, 0.307), [0, 0.05, 0.1, 0.15, 0.2, 0.25, 0.3], '%.2f', kegg_norm, kegg_n, kegg_d, 27.5)
fig.text(3316 / W, 1 - 2071 / H, 'KEGG Enrichment', fontsize=28, ha='center', va='center')
fig.text(3315 / W, 1 - 3437 / H, 'Rich factor', fontsize=27.5, ha='center', va='center')


# colour bars and size keys
def colorbar(x0, y0, x1, y1, y_top, y_bot, labels, fs):
    a = fig.add_axes(box(x0, y0, x1, y1))
    span = y_bot - y_top
    lo, hi = -(y1 - y_bot) / span, (y_bot - y0) / span
    a.imshow(np.clip(np.linspace(hi, lo, 256), 0, 1).reshape(-1, 1), cmap=cmap, aspect='auto', extent=[0, 1, lo, hi], vmin=0, vmax=1)
    a.set_xticks([])
    a.set_yticks([0, 0.5, 1])
    a.set_yticklabels(labels, fontsize=fs)
    a.yaxis.tick_right()
    a.tick_params(length=0, pad=int(fs * 0.6))
    for sp in a.spines.values():
        sp.set_visible(False)


colorbar(1731, 2184, 1767, 2543, 2207, 2528, ['0', '7e-9', '1e-8'], 30)
colorbar(3701, 2243, 3735, 2565, 2263, 2550, ['0', '0.015', '0.031'], 27)

key = fig.add_axes([0, 0, 1, 1])
key.set_xlim(0, W)
key.set_ylim(H, 0)
key.axis('off')
key.patch.set_alpha(0)
key.text(1733, 2132, 'Pvalue', fontsize=38, va='center')
key.text(1733, 2799, 'Number', fontsize=38, va='center')
key.scatter([1750, 1750, 1750], [2864, 2933, 3018], s=(np.array(go_d) * 0.72) ** 2, color='black', linewidths=0)
for n, yy in zip(go_n, [2864, 2933, 3018]):
    key.text(1795, yy, str(n), fontsize=30, va='center')
key.text(3703, 2196, 'Pvalue', fontsize=34, va='center')
key.text(3703, 2795, 'Number', fontsize=34.5, va='center')
key.scatter([3719, 3719, 3719], [2854, 2916, 2992], s=(np.array(kegg_d) * 0.72) ** 2, color='black', linewidths=0)
for n, yy in zip(kegg_n, [2854, 2916, 2992]):
    key.text(3762, yy, str(n), fontsize=27, va='center')

# panel letters
for letter, x, y, fs in [('G', 127, 158, 84), ('H', 2086, 143, 62), ('I', 131, 2051, 58), ('J', 2174, 2087, 58)]:
    key.text(x, y, letter, fontsize=fs, fontweight='bold', family='Liberation Serif', ha='center', va='center', color='black')

fig.savefig('out.png', dpi=100, facecolor='white')
